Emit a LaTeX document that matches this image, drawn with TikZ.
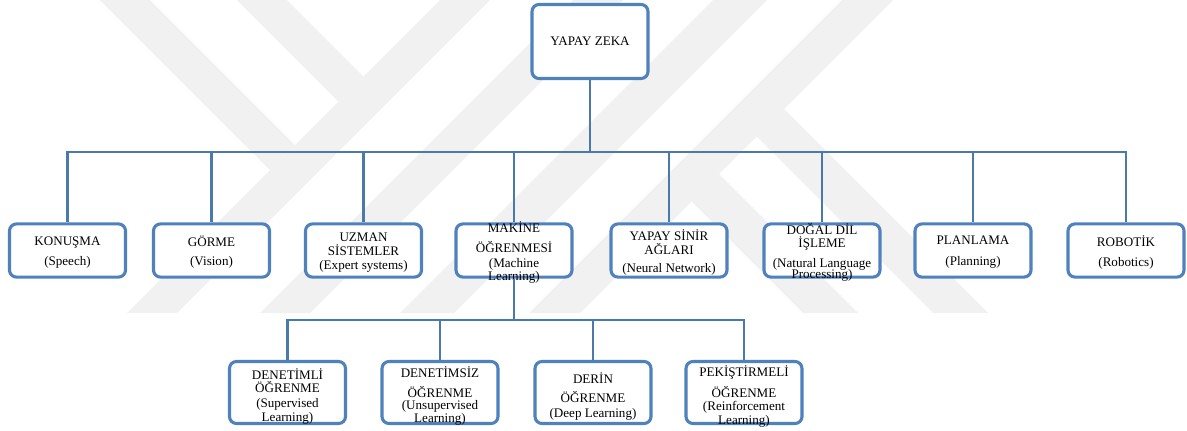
\documentclass[tikz,border=0pt]{standalone}
\usepackage{fontspec}
\setmainfont{Liberation Serif}
\usepackage{tikz}
\usetikzlibrary{calc}
\definecolor{BoxBlue}{HTML}{4F81BD}
\definecolor{LineBlue}{HTML}{4A7AAC}
\definecolor{MarkGray}{HTML}{F1F1F1}
\tikzset{
  unit/.style={draw=BoxBlue, line width=2.2pt, rounded corners=5pt, fill=white,
    inner sep=0pt, minimum width=2.9cm, minimum height=1.33cm},
  subunit/.style={unit, minimum height=1.55cm},
  rootunit/.style={unit, minimum height=1.85cm},
  caption/.style={align=center, inner sep=0pt, font=\fontsize{9.3}{9.6}\selectfont},
  unitcaption/.style={caption, yshift=-1.3pt},
  subcaption/.style={caption, yshift=-2.6pt},
  link/.style={draw=LineBlue, line width=1.9pt}
}

\begin{document}
\begin{tikzpicture}[x=0.025cm, y=-0.025cm]
  \useasboundingbox (0,0) rectangle (1187,430);
  \begin{scope}
    \clip (0,0) rectangle (1187,313);
    \fill[MarkGray] (100,0) -- (150,0) -- (295,145) -- (270,170) -- cycle;
    \fill[MarkGray] (237,0) -- (287,0) -- (363.5,76.5) -- (338.5,101.5) -- cycle;
    \fill[MarkGray] (440,0) -- (490,0) -- (177,313) -- (127,313) -- cycle;
    \fill[MarkGray] (573,0) -- (623,0) -- (310,313) -- (260,313) -- cycle;
    \fill[MarkGray] (713,0) -- (767,0) -- (454,313) -- (400,313) -- cycle;
    \fill[MarkGray] (842,0) -- (893,0) -- (580,313) -- (529,313) -- cycle;
    \fill[MarkGray] (719,174) -- (858,313) -- (803,313) -- (691.5,201.5) -- cycle;
    \fill[MarkGray] (784,109) -- (988,313) -- (933,313) -- (756.5,136.5) -- cycle;
  \end{scope}

  \node[rootunit, label={[caption]center:YAPAY ZEKA}] (root) at (590,41.5) {};

  \node[unit, label={[unitcaption]center:{KONUŞMA\\[4.6pt](Speech)}}] (konusma) at (67.5,250.5) {};
  \node[unit, label={[unitcaption]center:{GÖRME\\[4pt](Vision)}}] (gorme) at (211.5,250.5) {};
  \node[unit, label={[unitcaption]center:{UZMAN\\[1pt]SİSTEMLER\\(Expert systems)}}] (uzman) at (363.5,250.5) {};
  \node[unit, label={[unitcaption]center:{MAKİNE\\[4.6pt]ÖĞRENMESİ\\[1.1pt](Machine\\Learning)}}] (makine) at (514,250.5) {};
  \node[unit, label={[unitcaption]center:{YAPAY SİNİR\\AĞLARI\\[3.2pt](Neural Network)}}] (ysa) at (669,250.5) {};
  \node[unit, label={[unitcaption]center:{DOĞAL DİL\\İŞLEME\\[4.6pt](Natural Language\\[-1.8pt]Processing)}}] (dogal) at (822,250.5) {};
  \node[unit, label={[unitcaption]center:{PLANLAMA\\[5pt](Planning)}}] (planlama) at (973,250.5) {};
  \node[unit, label={[unitcaption]center:{ROBOTİK\\[4.6pt](Robotics)}}] (robotik) at (1126,250.5) {};

  \node[subunit, label={[subcaption]center:{DENETİMLİ\\ÖĞRENME\\[1.1pt](Supervised\\Learning)}}] (denetimli) at (287.5,392.5) {};
  \node[subunit, label={[subcaption]center:{DENETİMSİZ\\[4.6pt]ÖĞRENME\\[-1pt](Unsupervised\\Learning)}}] (denetimsiz) at (440,392.5) {};
  \node[subunit, label={[subcaption]center:{DERİN\\[4pt]ÖĞRENME\\[1.1pt](Deep Learning)}}] (derin) at (593,392.5) {};
  \node[subunit, label={[subcaption]center:{PEKİŞTİRMELİ\\[4pt]ÖĞRENME\\(Reinforcement\\Learning)}}] (pekistirmeli) at (744,392.5) {};

  \coordinate (hub) at (590,152);
  \foreach \n in {konusma,gorme,uzman,makine,ysa,dogal,planlama,robotik}
    \draw[link] (root.south) -- (hub) -| (\n.north);
  \coordinate (subhub) at (514,320);
  \foreach \n in {denetimli,denetimsiz,derin,pekistirmeli}
    \draw[link] (makine.south) -- (subhub) -| (\n.north);
\end{tikzpicture}
\end{document}
